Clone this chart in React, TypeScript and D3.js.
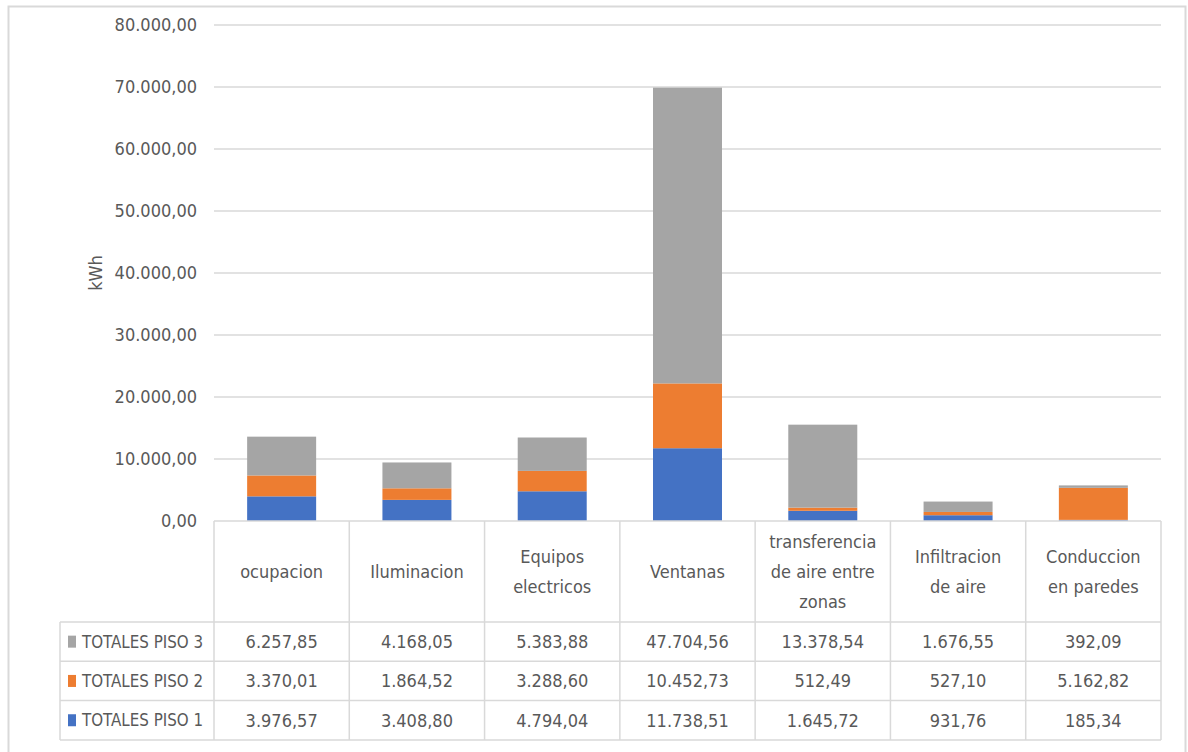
import React from "react";
import * as d3 from "d3";

const categories = [
  "ocupacion",
  "Iluminacion",
  "Equipos electricos",
  "Ventanas",
  "transferencia de aire entre zonas",
  "Infiltracion de aire",
  "Conduccion en paredes",
];
const categoryLines = [
  ["ocupacion"],
  ["Iluminacion"],
  ["Equipos", "electricos"],
  ["Ventanas"],
  ["transferencia", "de aire entre", "zonas"],
  ["Infiltracion", "de aire"],
  ["Conduccion", "en paredes"],
];
const piso1 = [3976.57, 3408.8, 4794.04, 11738.51, 1645.72, 931.76, 185.34];
const piso2 = [3370.01, 1864.52, 3288.6, 10452.73, 512.49, 527.1, 5162.82];
const piso3 = [6257.85, 4168.05, 5383.88, 47704.56, 13378.54, 1676.55, 392.09];
const seriesNames = ["TOTALES PISO 1", "TOTALES PISO 2", "TOTALES PISO 3"];
const colors = ["#4472C4", "#ED7D31", "#A5A5A5"];
const yTicks = [0, 10000, 20000, 30000, 40000, 50000, 60000, 70000, 80000];

const W = 1188;
const H = 752;
const plot = { left: 214, right: 1161, top: 25, bottom: 521 };
const headerBottom = 622;
const rowH = 39.3;
const legendLeft = 60;
const font = "'Liberation Sans Narrow', 'DejaVu Sans Condensed', Arial, sans-serif";
const fs = 18;
const textColor = "#595959";
const lineColor = "#D9D9D9";

const fmt = (v: number) => {
  const s = d3.format(",.2f")(v);
  return s.replace(/,/g, "#").replace(".", ",").replace(/#/g, ".");
};

export default function App() {
  const rows = categories.map((c, i) => ({ cat: c, p1: piso1[i], p2: piso2[i], p3: piso3[i] }));
  const stack = d3.stack<any>().keys(["p1", "p2", "p3"])(rows);

  const x = d3
    .scaleBand<string>()
    .domain(categories)
    .range([plot.left, plot.right])
    .paddingInner(0.49)
    .paddingOuter(0.245);
  const col = d3.scaleBand<string>().domain(categories).range([plot.left, plot.right]);
  const y = d3.scaleLinear().domain([0, 80000]).range([plot.bottom, plot.top]);

  // table rows top to bottom: piso 3, piso 2, piso 1
  const tableRows = [
    { name: seriesNames[2], values: piso3, color: colors[2] },
    { name: seriesNames[1], values: piso2, color: colors[1] },
    { name: seriesNames[0], values: piso1, color: colors[0] },
  ];
  const tableBottom = headerBottom + rowH * 3;

  return (
    <svg width={W} height={H} style={{ position: "absolute", left: 0, top: 0 }} fontFamily={font}>
      <rect x={8.5} y={6.5} width={1177} height={760} fill="#fff" stroke={lineColor} strokeWidth={2} />

      {yTicks.map((t) => (
        <g key={t}>
          {t > 0 && (
            <line x1={plot.left} x2={plot.right} y1={y(t)} y2={y(t)} stroke={lineColor} strokeWidth={1.5} />
          )}
          <text x={197} y={y(t)} dy="0.35em" textAnchor="end" fontSize={fs} fill={textColor}>
            {fmt(t)}
          </text>
        </g>
      ))}

      <text
        transform={`translate(96, ${273}) rotate(-90)`}
        textAnchor="middle"
        dy="0.35em"
        fontSize={fs}
        fill={textColor}
      >
        kWh
      </text>

      {stack.map((s, si) =>
        s.map((d, i) => (
          <rect
            key={`${si}-${i}`}
            x={x(categories[i])}
            width={x.bandwidth()}
            y={y(d[1])}
            height={y(d[0]) - y(d[1])}
            fill={colors[si]}
          />
        ))
      )}

      {/* data table */}
      <g stroke={lineColor} strokeWidth={1.5} fill="none">
        <line x1={plot.left} x2={plot.right} y1={plot.bottom} y2={plot.bottom} />
        <line x1={legendLeft} x2={plot.right} y1={headerBottom} y2={headerBottom} />
        {[1, 2, 3].map((r) => (
          <line key={r} x1={legendLeft} x2={plot.right} y1={headerBottom + rowH * r} y2={headerBottom + rowH * r} />
        ))}
        <line x1={legendLeft} x2={legendLeft} y1={headerBottom} y2={tableBottom} />
        {categories.map((c) => (
          <line key={c} x1={col(c)} x2={col(c)} y1={plot.bottom} y2={tableBottom} />
        ))}
        <line x1={plot.right} x2={plot.right} y1={plot.bottom} y2={tableBottom} />
      </g>

      {categories.map((c, i) => {
        const lines = categoryLines[i];
        const cx = col(c)! + col.bandwidth() / 2;
        const cy = (plot.bottom + headerBottom) / 2;
        return (
          <text key={c} textAnchor="middle" fontSize={fs} fill={textColor}>
            {lines.map((l, li) => (
              <tspan key={li} x={cx} y={cy + (li - (lines.length - 1) / 2) * 30} dy="0.35em">
                {l}
              </tspan>
            ))}
          </text>
        );
      })}

      {tableRows.map((row, r) => {
        const cy = headerBottom + rowH * r + rowH / 2;
        return (
          <g key={row.name}>
            <rect x={68} y={cy - 6} width={8} height={12} fill={row.color} />
            <text x={82} y={cy} dy="0.35em" fontSize={16.8} fill={textColor}>
              {row.name}
            </text>
            {row.values.map((v, i) => (
              <text
                key={i}
                x={col(categories[i])! + col.bandwidth() / 2}
                y={cy}
                dy="0.35em"
                textAnchor="middle"
                fontSize={fs}
                fill={textColor}
              >
                {fmt(v)}
              </text>
            ))}
          </g>
        );
      })}
    </svg>
  );
}
